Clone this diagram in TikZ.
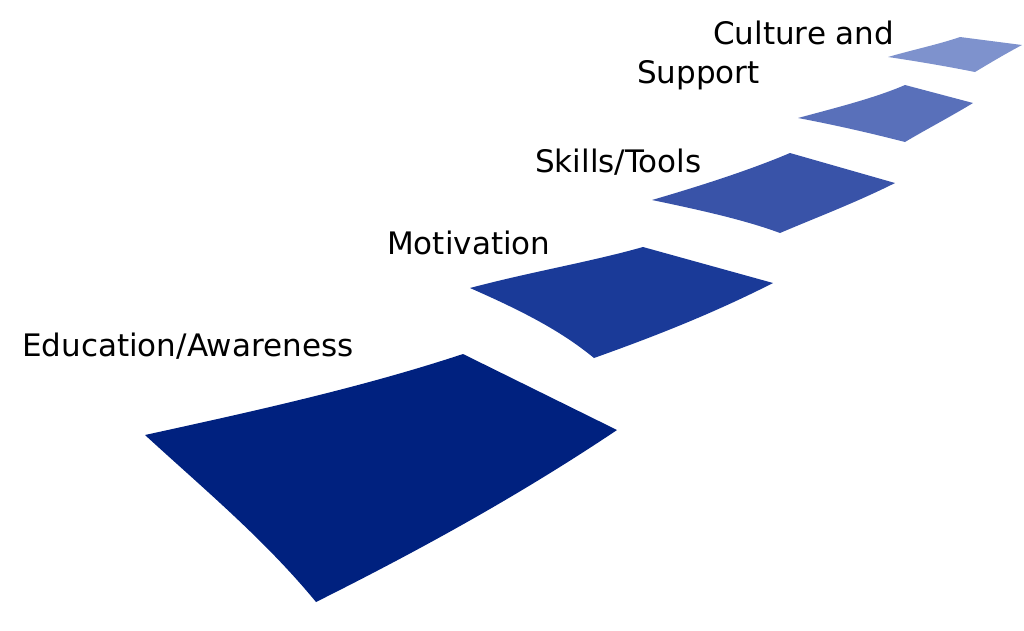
\documentclass[tikz,border=0pt]{standalone}
\usepackage{fontspec}
\setmainfont{DejaVu Sans}
\begin{document}
\begin{tikzpicture}[x=1pt,y=-1pt,
  lbl/.style={anchor=west,font=\fontsize{31}{36}\selectfont,inner sep=0pt}]
\useasboundingbox (0,0) rectangle (1024,630);
\definecolor{c1}{HTML}{00217F}
\definecolor{c2}{HTML}{1A3A98}
\definecolor{c3}{HTML}{3953A8}
\definecolor{c4}{HTML}{5970BA}
\definecolor{c5}{HTML}{7E92CD}
\fill[c1] (145,435) .. controls (250,412) and (360,388) .. (463,354) -- (617,430)
  .. controls (520,495) and (420,550) .. (316,602) .. controls (265,540) and (205,490) .. (145,435) -- cycle;
\fill[c2] (470,288) .. controls (530,272) and (590,262) .. (643,247) -- (773,283)
  .. controls (710,315) and (650,338) .. (594,358) .. controls (560,330) and (520,310) .. (470,288) -- cycle;
\fill[c3] (652,200) .. controls (700,186) and (750,170) .. (790,153) -- (895,183)
  .. controls (855,203) and (815,218) .. (780,233) .. controls (745,220) and (700,210) .. (652,200) -- cycle;
\fill[c4] (798,118) .. controls (835,108) and (875,98) .. (905,85) -- (973,103)
  .. controls (950,117) and (925,130) .. (905,142) .. controls (870,133) and (835,125) .. (798,118) -- cycle;
\fill[c5] (888,57) .. controls (912,50) and (940,44) .. (960,37) -- (1022,45)
  .. controls (1005,54) and (990,63) .. (975,72) .. controls (945,66) and (915,61) .. (888,57) -- cycle;
\node[lbl] (t1) at (22,346) {Education/Awareness};
\node[lbl] (t2) at (387,243) {Motivation};
\node[lbl] (t3) at (535,162) {Skills/Tools};
\node[lbl] (t4) at (713,33) {Culture and};
\node[lbl] (t5) at (637,75) {Support};
\end{tikzpicture}
\end{document}
